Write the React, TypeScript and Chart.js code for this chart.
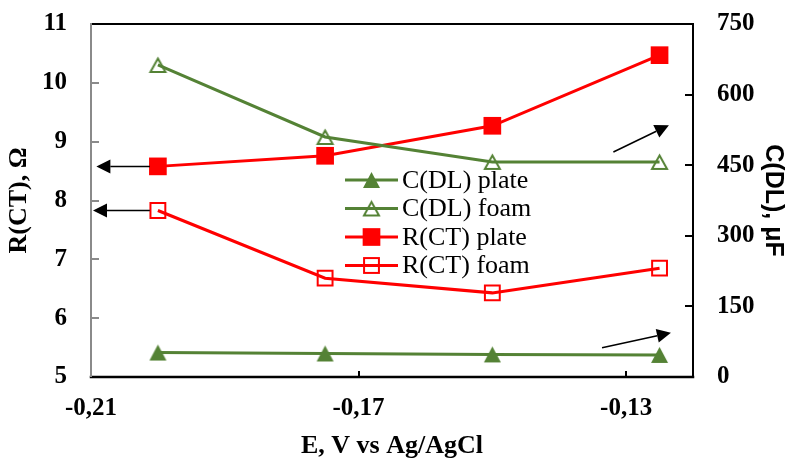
import React, { useEffect, useRef } from "react";
import { Chart, registerables } from "chart.js";

Chart.register(...registerables);

// Electrode potential, V vs Ag/AgCl
const potentials = [-0.2, -0.175, -0.15, -0.125];
// Double-layer capacitance, µF (right axis)
const cdlPlate = [52, 50, 48, 47];
const cdlFoam = [663, 510, 457, 457];
// Charge-transfer resistance, Ω (left axis)
const rctPlate = [8.58, 8.76, 9.27, 10.47];
const rctFoam = [7.83, 6.68, 6.43, 6.85];

const xTickValues = [-0.21, -0.17, -0.13];
const leftTickValues = [5, 6, 7, 8, 9, 10, 11];
const rightTickValues = [0, 150, 300, 450, 600, 750];

const seriesNames = ["C(DL) plate", "C(DL) foam", "R(CT) plate", "R(CT) foam"];

// Pointer arrows linking each curve to its axis (data coordinates)
const arrowFrom = [
  [-0.2012, 8.58],
  [-0.2012, 7.83],
  [-0.1319, 478],
  [-0.1336, 62],
];
const arrowTo = [
  [-0.2092, 8.58],
  [-0.2097, 7.83],
  [-0.1236, 535],
  [-0.1233, 94],
];
const arrowAxis = ["y", "y", "y1", "y1"];

const GREEN = "#548235";
const RED = "#ff0000";
const SERIF = "'Liberation Serif', 'Times New Roman', serif";
const SANS = "'Liberation Sans', Arial, sans-serif";
const TICK_FONT = { family: SERIF, size: 25, weight: "bold" as const };

function triangleMarker(fill: boolean, color: string): HTMLCanvasElement {
  const w = 17;
  const h = 16;
  const pad = 2;
  const c = document.createElement("canvas");
  c.width = w + pad * 2;
  c.height = h + pad * 2;
  const ctx = c.getContext("2d")!;
  if (fill) {
    ctx.beginPath();
    ctx.moveTo(pad + w / 2, pad);
    ctx.lineTo(pad + w, pad + h);
    ctx.lineTo(pad, pad + h);
    ctx.closePath();
    ctx.fillStyle = color;
    ctx.fill();
  } else {
    ctx.lineWidth = 2;
    ctx.strokeStyle = color;
    ctx.lineJoin = "miter";
    ctx.beginPath();
    ctx.moveTo(pad + w / 2, pad + 1.5);
    ctx.lineTo(pad + w - 1, pad + h - 1);
    ctx.lineTo(pad + 1, pad + h - 1);
    ctx.closePath();
    ctx.stroke();
  }
  return c;
}

const framePlugin = {
  id: "frame",
  beforeDatasetsDraw(chart: any) {
    const { ctx, chartArea: a, scales } = chart;
    ctx.save();
    // inner tick marks
    ctx.lineWidth = 2;
    ctx.strokeStyle = "#8a8a8a";
    leftTickValues.forEach((v) => {
      const y = Math.round(scales.y.getPixelForValue(v));
      ctx.beginPath();
      ctx.moveTo(a.left, y);
      ctx.lineTo(a.left + 8, y);
      ctx.stroke();
    });
    ctx.strokeStyle = "#000";
    rightTickValues.forEach((v) => {
      const y = Math.round(scales.y1.getPixelForValue(v));
      ctx.beginPath();
      ctx.moveTo(a.right - 8, y);
      ctx.lineTo(a.right, y);
      ctx.stroke();
    });
    xTickValues.forEach((v) => {
      const x = Math.round(scales.x.getPixelForValue(v));
      ctx.beginPath();
      ctx.moveTo(x, a.bottom);
      ctx.lineTo(x, a.bottom - 6);
      ctx.stroke();
    });
    // plot border
    ctx.lineCap = "square";
    ctx.strokeStyle = "#000";
    ctx.lineWidth = 2;
    ctx.beginPath();
    ctx.moveTo(a.left, a.top);
    ctx.lineTo(a.right, a.top);
    ctx.lineTo(a.right, a.bottom);
    ctx.stroke();
    ctx.lineWidth = 2.5;
    ctx.beginPath();
    ctx.moveTo(a.left, a.bottom);
    ctx.lineTo(a.right, a.bottom);
    ctx.stroke();
    ctx.strokeStyle = "#8a8a8a";
    ctx.lineWidth = 2;
    ctx.beginPath();
    ctx.moveTo(a.left, a.top);
    ctx.lineTo(a.left, a.bottom - 1);
    ctx.stroke();
    ctx.restore();
  },
};

const arrowPlugin = {
  id: "arrows",
  afterDatasetsDraw(chart: any) {
    const { ctx, scales } = chart;
    ctx.save();
    ctx.strokeStyle = "#000";
    ctx.fillStyle = "#000";
    ctx.lineWidth = 1.5;
    arrowFrom.forEach((f, i) => {
      const ys = scales[arrowAxis[i]];
      const x0 = scales.x.getPixelForValue(f[0]);
      const y0 = ys.getPixelForValue(f[1]);
      const x1 = scales.x.getPixelForValue(arrowTo[i][0]);
      const y1 = ys.getPixelForValue(arrowTo[i][1]);
      const ang = Math.atan2(y1 - y0, x1 - x0);
      const len = 14;
      const half = 7;
      const bx = x1 - Math.cos(ang) * len;
      const by = y1 - Math.sin(ang) * len;
      ctx.beginPath();
      ctx.moveTo(x0, y0);
      ctx.lineTo(bx, by);
      ctx.stroke();
      ctx.beginPath();
      ctx.moveTo(x1, y1);
      ctx.lineTo(bx + Math.sin(ang) * half, by - Math.cos(ang) * half);
      ctx.lineTo(bx - Math.sin(ang) * half, by + Math.cos(ang) * half);
      ctx.closePath();
      ctx.fill();
    });
    ctx.restore();
  },
};

const legendPlugin = {
  id: "innerLegend",
  afterDatasetsDraw(chart: any) {
    const { ctx } = chart;
    const rowTop = 180;
    const rowGap = 28.5;
    const lineX0 = 345;
    const lineX1 = 398;
    ctx.save();
    chart.data.datasets.forEach((ds: any, i: number) => {
      const y = rowTop + i * rowGap;
      ctx.strokeStyle = ds.borderColor;
      ctx.lineWidth = ds.borderWidth;
      ctx.beginPath();
      ctx.moveTo(lineX0, y);
      ctx.lineTo(lineX1, y);
      ctx.stroke();
      const mx = (lineX0 + lineX1) / 2;
      const ps = ds.pointStyle;
      if (ps instanceof HTMLCanvasElement) {
        ctx.drawImage(ps, mx - ps.width / 2, y - ps.height / 2);
      } else {
        const s = ds.pointRadius * Math.SQRT1_2;
        if (ds.pointBackgroundColor !== "transparent") {
          ctx.fillStyle = ds.pointBackgroundColor;
          ctx.fillRect(mx - s, y - s, 2 * s, 2 * s);
        }
        if (ds.pointBorderWidth > 0) {
          ctx.lineWidth = ds.pointBorderWidth;
          ctx.strokeStyle = ds.pointBorderColor;
          ctx.strokeRect(mx - s, y - s, 2 * s, 2 * s);
        }
      }
      ctx.fillStyle = "#000";
      ctx.font = `26px ${SERIF}`;
      ctx.textBaseline = "middle";
      ctx.textAlign = "left";
      ctx.fillText(ds.label, 402, y + 1);
    });
    ctx.restore();
  },
};

const commaFmt = (v: number, digits: number) => v.toFixed(digits).replace(".", ",");

// Vertical axes: fixed width, and no extra room reserved for end labels
const fixVertical = (width: number) => (s: any) => {
  s.width = width;
  s.paddingTop = 0;
  s.paddingBottom = 0;
};

export default function App() {
  const canvasRef = useRef<HTMLCanvasElement | null>(null);

  useEffect(() => {
    const canvas = canvasRef.current;
    if (!canvas) return;
    const pts = (ys: number[]) => potentials.map((x, i) => ({ x, y: ys[i] }));
    const chart = new Chart(canvas, {
      type: "line",
      data: {
        datasets: [
          {
            label: seriesNames[0],
            data: pts(cdlPlate),
            yAxisID: "y1",
            borderColor: GREEN,
            borderWidth: 3,
            pointStyle: triangleMarker(true, GREEN) as any,
            pointRadius: 9,
            pointBackgroundColor: GREEN,
            pointBorderColor: GREEN,
          },
          {
            label: seriesNames[1],
            data: pts(cdlFoam),
            yAxisID: "y1",
            borderColor: GREEN,
            borderWidth: 3,
            pointStyle: triangleMarker(false, GREEN) as any,
            pointRadius: 9,
            pointBackgroundColor: "transparent",
            pointBorderColor: GREEN,
          },
          {
            label: seriesNames[2],
            data: pts(rctPlate),
            yAxisID: "y",
            borderColor: RED,
            borderWidth: 3,
            pointStyle: "rect",
            pointRadius: 12.5,
            pointBackgroundColor: RED,
            pointBorderColor: RED,
            pointBorderWidth: 0,
          },
          {
            label: seriesNames[3],
            data: pts(rctFoam),
            yAxisID: "y",
            borderColor: RED,
            borderWidth: 3,
            pointStyle: "rect",
            pointRadius: 10.5,
            pointBackgroundColor: "transparent",
            pointBorderColor: RED,
            pointBorderWidth: 2,
          },
        ],
      },
      options: {
        responsive: false,
        animation: false,
        events: [],
        layout: { padding: { top: 24, left: 0, right: 0, bottom: 0 } },
        plugins: {
          legend: { display: false },
          tooltip: { enabled: false },
        },
        elements: { line: { tension: 0 } },
        scales: {
          x: {
            type: "linear",
            min: -0.21,
            max: -0.12,
            afterBuildTicks: (s: any) => {
              s.ticks = xTickValues.map((value) => ({ value }));
            },
            afterFit: (s: any) => {
              s.height = 83;
              s.paddingLeft = 0;
              s.paddingRight = 0;
            },
            grid: { display: false, drawTicks: false },
            border: { display: false },
            ticks: {
              padding: 17,
              color: "#000",
              font: TICK_FONT,
              callback: (v: any) => commaFmt(Number(v), 2),
            },
            title: {
              display: true,
              text: "E, V vs Ag/AgCl",
              color: "#000",
              font: { family: SERIF, size: 26, weight: "bold" },
              padding: { top: 0, bottom: -2 },
            },
          },
          y: {
            position: "left",
            min: 5,
            max: 11,
            afterBuildTicks: (s: any) => {
              s.ticks = leftTickValues.map((value) => ({ value }));
            },
            afterFit: fixVertical(91),
            grid: { display: false, drawTicks: false },
            border: { display: false },
            ticks: {
              padding: 24,
              color: "#000",
              font: TICK_FONT,
            },
            title: {
              display: true,
              text: "R(CT), Ω",
              color: "#000",
              font: { family: SERIF, size: 26, weight: "bold" },
              padding: { top: 4, bottom: 0 },
            },
          },
          y1: {
            position: "right",
            min: 0,
            max: 750,
            afterBuildTicks: (s: any) => {
              s.ticks = rightTickValues.map((value) => ({ value }));
            },
            afterFit: fixVertical(96),
            grid: { display: false, drawTicks: false },
            border: { display: false },
            ticks: {
              padding: 24,
              color: "#000",
              font: TICK_FONT,
            },
            title: {
              display: true,
              text: "C(DL), μF",
              color: "#000",
              font: { family: SANS, size: 25, weight: "bold" },
              padding: { top: 1, bottom: 0 },
            },
          },
        },
      },
      plugins: [framePlugin, arrowPlugin, legendPlugin],
    });
    return () => chart.destroy();
  }, []);

  return (
    <div style={{ position: "absolute", left: 0, top: 0, width: 789, height: 460, background: "#fff" }}>
      <canvas ref={canvasRef} width={789} height={460} />
    </div>
  );
}
